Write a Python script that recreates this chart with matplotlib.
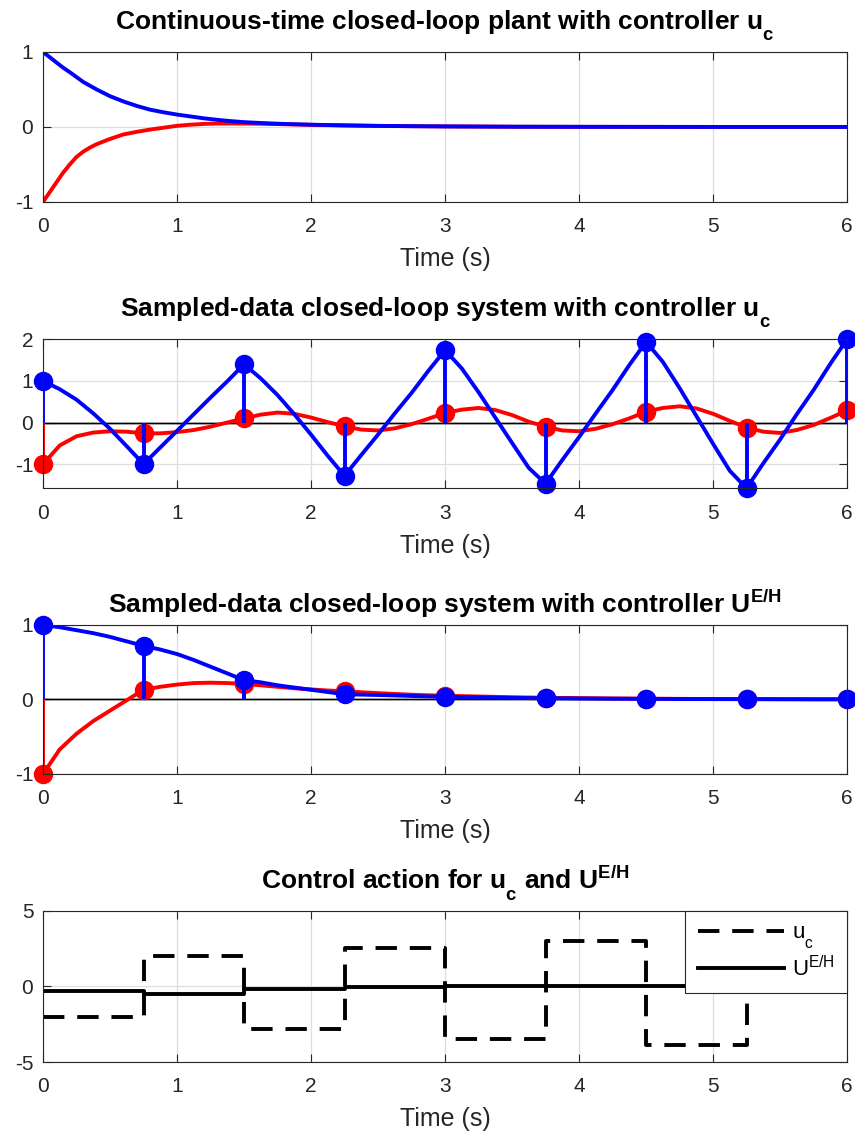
import numpy as np
import matplotlib
matplotlib.use('Agg')
import matplotlib.pyplot as plt

plt.rcParams.update({
    'font.family': ['Liberation Sans', 'DejaVu Sans'],
    'mathtext.fontset': 'custom',
    'mathtext.rm': 'Liberation Sans',
    'mathtext.it': 'Liberation Sans:italic',
    'mathtext.bf': 'Liberation Sans:bold',
    'mathtext.sf': 'Liberation Sans',
    'axes.unicode_minus': False,
})
# MATLAB drops subscripts lower than mathtext does
try:
    import matplotlib._mathtext as _mt
    _mt.FontConstantsBase.sub1 = 0.85
except Exception:
    pass

# --- panel 1: continuous-time closed loop ---
t_ct = [0, 0.05, 0.1, 0.15, 0.2, 0.25, 0.3, 0.35, 0.4, 0.5, 0.6, 0.7, 0.8, 0.9, 1.0,
        1.1, 1.2, 1.3, 1.4, 1.5, 1.6, 1.7, 1.8, 1.9, 2.0, 2.25, 2.5, 2.75, 3.0, 3.5,
        4.0, 5.0, 6.0]
x1_ct = [-1.0, -0.87, -0.74, -0.61, -0.50, -0.40, -0.33, -0.275, -0.23, -0.16, -0.10,
         -0.065, -0.035, -0.01, 0.015, 0.03, 0.04, 0.045, 0.046, 0.045, 0.043, 0.04,
         0.036, 0.032, 0.028, 0.02, 0.014, 0.01, 0.007, 0.003, 0.0015, 0.0, 0.0]
x2_ct = [1.0, 0.93, 0.86, 0.79, 0.73, 0.665, 0.60, 0.55, 0.50, 0.41, 0.34, 0.28, 0.23,
         0.195, 0.165, 0.14, 0.115, 0.095, 0.078, 0.064, 0.055, 0.047, 0.04, 0.035,
         0.03, 0.021, 0.014, 0.01, 0.007, 0.003, 0.0015, 0.0, 0.0]

# --- panel 2: sampled-data with u_c ---
t_fine = [0, 0.125, 0.25, 0.375, 0.5, 0.625, 0.75, 0.875, 1.0, 1.125, 1.25, 1.375,
          1.5, 1.625, 1.75, 1.875, 2.0, 2.125, 2.25, 2.375, 2.5, 2.625, 2.75, 2.875,
          3.0, 3.125, 3.25, 3.375, 3.5, 3.625, 3.75, 3.875, 4.0, 4.125, 4.25, 4.375,
          4.5, 4.625, 4.75, 4.875, 5.0, 5.125, 5.25, 5.375, 5.5, 5.625, 5.75, 5.875, 6.0]
x1_sd = [-1.00, -0.55, -0.33, -0.24, -0.21, -0.22,
         -0.26, -0.26, -0.23, -0.18, -0.10, 0.00,
         0.10, 0.19, 0.24, 0.21, 0.12, 0.01,
         -0.09, -0.17, -0.19, -0.14, -0.04, 0.09,
         0.23, 0.31, 0.35, 0.30, 0.18, 0.02,
         -0.10, -0.19, -0.21, -0.15, -0.04, 0.10,
         0.26, 0.35, 0.39, 0.34, 0.21, 0.04,
         -0.12, -0.22, -0.25, -0.18, -0.06, 0.11,
         0.29]
x2_sd = [1.00, 0.80, 0.55, 0.22, -0.15, -0.57,
         -1.00, -0.60, -0.20, 0.20, 0.60, 0.99,
         1.40, 1.06, 0.66, 0.20, -0.29, -0.80,
         -1.28, -0.78, -0.29, 0.22, 0.71, 1.24,
         1.74, 1.30, 0.73, 0.12, -0.49, -1.09,
         -1.47, -0.90, -0.35, 0.22, 0.78, 1.38,
         1.94, 1.46, 0.83, 0.16, -0.51, -1.16,
         -1.58, -0.98, -0.41, 0.20, 0.78, 1.41,
         2.00]

t_samp = [0, 0.75, 1.5, 2.25, 3.0, 3.75, 4.5, 5.25, 6.0]
x1_samp_uc = [-1.00, -0.26, 0.10, -0.09, 0.23, -0.10, 0.26, -0.12, 0.29]
x2_samp_uc = [1.00, -1.00, 1.40, -1.28, 1.74, -1.47, 1.94, -1.58, 2.00]

# --- panel 3: sampled-data with U^{E/H} ---
t_eh = [0, 0.125, 0.25, 0.375, 0.5, 0.625, 0.75, 0.875, 1.0, 1.125, 1.25, 1.375,
        1.5, 1.625, 1.75, 1.875, 2.0, 2.125, 2.25, 2.375, 2.5, 2.625, 2.75, 2.875,
        3.0, 3.25, 3.5, 3.75, 4.0, 4.25, 4.5, 4.75, 5.0, 5.25, 5.5, 5.75, 6.0]
x1_eh = [-1.0, -0.67, -0.46, -0.29, -0.15, -0.01, 0.13, 0.17, 0.20, 0.22, 0.225, 0.22,
         0.21, 0.19, 0.17, 0.15, 0.135, 0.12, 0.11, 0.097, 0.085, 0.074, 0.064, 0.056,
         0.05, 0.04, 0.03, 0.023, 0.018, 0.014, 0.011, 0.008, 0.006, 0.005, 0.004,
         0.003, 0.002]
x2_eh = [1.0, 0.97, 0.93, 0.89, 0.84, 0.78, 0.72, 0.67, 0.61, 0.53, 0.44, 0.35,
         0.26, 0.23, 0.19, 0.16, 0.13, 0.10, 0.07, 0.065, 0.06, 0.054, 0.047, 0.041,
         0.035, 0.028, 0.021, 0.016, 0.013, 0.01, 0.008, 0.006, 0.005, 0.004, 0.003,
         0.002, 0.002]
x1_samp_eh = [-1.0, 0.13, 0.21, 0.11, 0.05, 0.023, 0.011, 0.005, 0.002]
x2_samp_eh = [1.0, 0.72, 0.26, 0.07, 0.035, 0.016, 0.008, 0.004, 0.002]

# --- panel 4: control action ---
t_u = [0, 0.75, 1.5, 2.25, 3.0, 3.75, 4.5, 5.25]
u_c = [-2.0, 2.0, -2.8, 2.58, -3.46, 3.04, -3.85, 3.4]
u_eh = [-0.33, -0.48, -0.17, -0.04, 0.01, 0.01, 0.0, 0.0]

LW = 2.8
MS = 13
AX_COL = (0.15, 0.15, 0.15)
GRID_COL = (0.87, 0.87, 0.87)
TITLE_FS = 19

fig = plt.figure(figsize=(8.55, 11.39), dpi=100)
rects = [
    (0.0503, 0.8227, 0.9404, 0.1317),
    (0.0503, 0.5713, 0.9404, 0.1308),
    (0.0503, 0.3205, 0.9404, 0.1308),
    (0.0503, 0.0676, 0.9404, 0.1326),
]
axes = [fig.add_axes(r) for r in rects]


def style(ax, yticks):
    ax.set_xlim(0, 6)
    ax.set_xticks(range(7))
    ax.set_yticks(yticks)
    ax.grid(True, color=GRID_COL, linewidth=0.9)
    ax.set_axisbelow(True)
    ax.tick_params(direction='in', length=5.5, width=0.8, colors=AX_COL,
                   labelsize=15, top=True, right=True)
    ax.tick_params(axis='x', pad=11)
    ax.tick_params(axis='y', pad=7)
    for s in ax.spines.values():
        s.set_color(AX_COL)
        s.set_linewidth(0.8)
    ax.set_xlabel('Time (s)', fontsize=18, color=AX_COL, labelpad=8)


def stems(ax, t, vals, color):
    markerline, stemlines, baseline = ax.stem(t, vals, linefmt='-', markerfmt='o', basefmt='k-')
    stemlines.set_color(color)
    stemlines.set_linewidth(LW)
    markerline.set_color(color)
    markerline.set_markersize(MS)
    markerline.set_clip_on(False)
    baseline.set_color('black')
    baseline.set_linewidth(1.0)
    baseline.set_xdata([0, 6])
    baseline.set_zorder(1.5)


# panel 1
ax = axes[0]
ax.plot(t_ct, x1_ct, color='red', lw=LW)
ax.plot(t_ct, x2_ct, color='blue', lw=LW)
ax.set_ylim(-1, 1)
style(ax, [-1, 0, 1])
ax.set_title(r'Continuous-time closed-loop plant with controller $\mathbf{u_c}$',
             fontsize=TITLE_FS, fontweight='bold', pad=16.5)

# panel 2
ax = axes[1]
ax.plot(t_fine, x1_sd, color='red', lw=LW)
stems(ax, t_samp, x1_samp_uc, 'red')
ax.plot(t_fine, x2_sd, color='blue', lw=LW)
stems(ax, t_samp, x2_samp_uc, 'blue')
ax.set_ylim(min(x2_samp_uc), max(x2_samp_uc))
style(ax, [-1, 0, 1, 2])
ax.set_title(r'Sampled-data closed-loop system with controller $\mathbf{u_c}$',
             fontsize=TITLE_FS, fontweight='bold', pad=16.5)

# panel 3
ax = axes[2]
ax.plot(t_eh, x1_eh, color='red', lw=LW)
stems(ax, t_samp, x1_samp_eh, 'red')
ax.plot(t_eh, x2_eh, color='blue', lw=LW)
stems(ax, t_samp, x2_samp_eh, 'blue')
ax.set_ylim(-1, 1)
style(ax, [-1, 0, 1])
ax.set_title(r'Sampled-data closed-loop system with controller $\mathbf{U^{E/H}}$',
             fontsize=TITLE_FS, fontweight='bold', pad=8.5)

# panel 4
ax = axes[3]
ax.step(t_u, u_c, where='post', color='black', lw=LW, linestyle=(0, (5.5, 3.3)),
        label=r'$\mathrm{u_c}$')
ax.step(t_u, u_eh, where='post', color='black', lw=LW, label=r'$\mathrm{U^{E/H}}$')
ax.set_ylim(-5, 5)
style(ax, [-5, 0, 5])
ax.set_title(r'Control action for $\mathbf{u_c}$ and $\mathbf{U^{E/H}}$',
             fontsize=TITLE_FS, fontweight='bold', pad=16.5)
leg = ax.legend(loc='upper right', fontsize=16, handlelength=3.9, handletextpad=0.35,
                borderaxespad=0, borderpad=0.55, fancybox=False, framealpha=1,
                labelspacing=0.2)
leg.get_frame().set_edgecolor(AX_COL)
leg.get_frame().set_linewidth(0.8)

fig.savefig('out.png', dpi=100)
